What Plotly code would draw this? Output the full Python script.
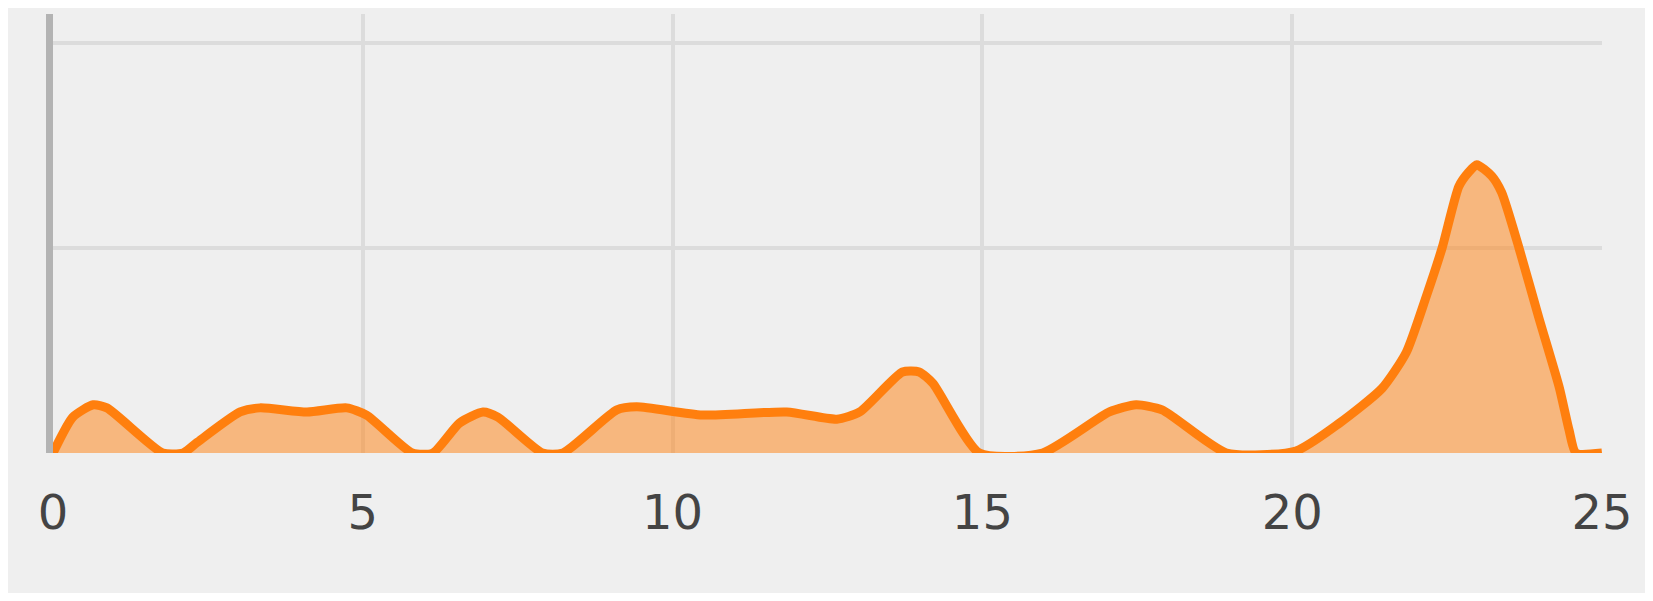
import plotly.graph_objects as go

BG        = "#efefef"
ORANGE    = "#ff7f0e"
GRID      = "#dcdcdc"
AXIS_LINE = "#b3b3b3"
TEXT      = "#444444"
FONT      = "Verdana, DejaVu Sans, sans-serif"

# curve vertices (x in axis units, y in gridline units)
x_vals = [0, 0.32, 0.65, 0.87, 1.77, 2.1, 2.32, 3.02, 3.34, 4.1, 4.74, 5.06,
          5.8, 6.13, 6.56, 6.94, 7.18, 7.9, 8.23, 9.1, 9.42, 10.48, 11.84,
          12.65, 13.02, 13.71, 13.98, 14.2, 14.95, 15.97, 17.05, 17.48, 17.9,
          18.94, 20.06, 20.76, 21.45, 21.84, 22.16, 22.42, 22.69, 22.85, 22.98,
          23.22, 23.38, 23.66, 23.98, 24.31, 24.47, 24.58, 25]
y_vals = [0, 0.175, 0.235, 0.22, 0, 0, 0.05, 0.2, 0.22, 0.2, 0.22, 0.185,
          0, 0, 0.146, 0.2, 0.175, 0, 0, 0.21, 0.225, 0.185, 0.2,
          0.165, 0.2, 0.395, 0.395, 0.34, 0, 0, 0.2, 0.235, 0.21,
          0, 0.01, 0.145, 0.315, 0.49, 0.76, 1.0, 1.3, 1.37, 1.405,
          1.35, 1.27, 1.0, 0.66, 0.32, 0.11, 0, 0]

x_ticks = [0, 5, 10, 15, 20, 25]
y_ticks = [1, 2]

fig = go.Figure(go.Scatter(
    x=x_vals, y=y_vals,
    mode="lines",
    line=dict(color=ORANGE, width=9, shape="spline", smoothing=0.6),
    fill="tozeroy",
    fillcolor="rgba(255,127,14,0.5)",
    hoverinfo="skip",
))

# page body keeps its 8px margin, so the figure is sized to fit the window
fig.update_layout(
    width=1637, height=585,
    margin=dict(l=45, r=43, t=6, b=140),
    paper_bgcolor=BG,
    plot_bgcolor=BG,
    showlegend=False,
    font=dict(family=FONT, color=TEXT, size=48),
    xaxis=dict(
        range=[0, 25], tickvals=x_ticks,
        showgrid=True, gridcolor=GRID, gridwidth=4,
        zeroline=False, showline=False,
        ticks="outside", ticklen=17, tickcolor="rgba(0,0,0,0)",
        tickfont=dict(size=48, color=TEXT, family=FONT),
    ),
    yaxis=dict(
        range=[0, 2.14], tickvals=y_ticks,
        showgrid=True, gridcolor=GRID, gridwidth=4,
        zeroline=False, showticklabels=False,
        showline=True, linecolor=AXIS_LINE, linewidth=7,
    ),
)

fig.write_html("out.html", config={"displayModeBar": False})
